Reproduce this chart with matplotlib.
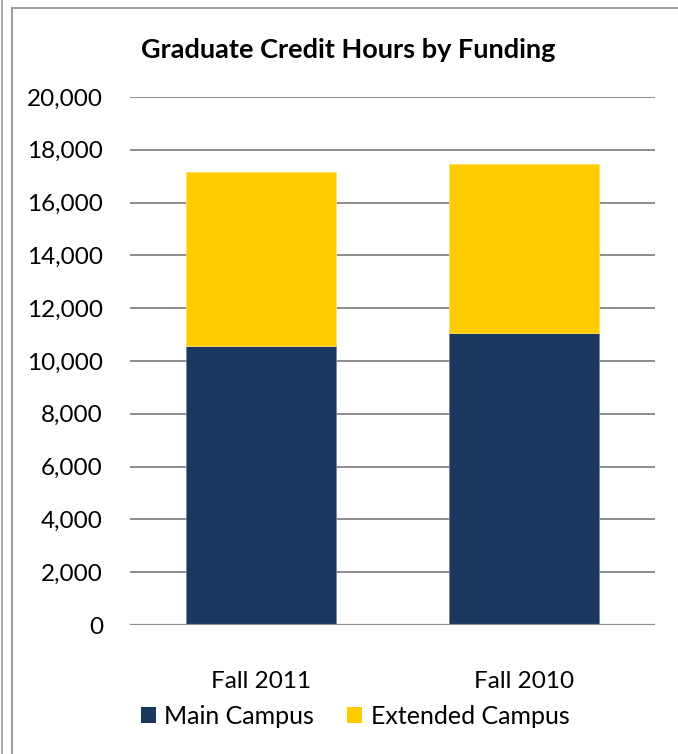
import matplotlib
matplotlib.use("Agg")
import matplotlib.pyplot as plt
from matplotlib.lines import Line2D
from matplotlib.patches import Patch

categories = ["Fall 2011", "Fall 2010"]
main_campus = [10560, 11070]
extended_campus = [6600, 6390]
yticks = [0, 2000, 4000, 6000, 8000, 10000, 12000, 14000, 16000, 18000, 20000]

plt.rcParams['font.family'] = ['Lato', 'DejaVu Sans']

W, H = 678, 754
fig = plt.figure(figsize=(W / 100, H / 100), dpi=100)
ax = fig.add_axes([130 / W, 1 - 625 / H, (655 - 130) / W, (625 - 97) / H])

navy = "#1A375E"
gold = "#FFCC00"
x = range(len(categories))
ax.bar(x, main_campus, width=0.571, color=navy, edgecolor="#6E86A8", linewidth=0.6, zorder=3)
ax.bar(x, extended_campus, bottom=main_campus, width=0.571, color=gold,
       edgecolor="#FFE066", linewidth=0.6, zorder=3)

ax.set_xlim(-0.5, 1.5)
ax.set_ylim(0, 20000)
ax.set_yticks(yticks)
ax.set_yticklabels([f"{v:,}" for v in yticks], fontsize=17.5)
ax.set_xticks(list(x))
ax.set_xticklabels(categories, fontsize=17.5)
ax.tick_params(axis='both', length=0)
ax.tick_params(axis='y', pad=19.5)
ax.tick_params(axis='x', pad=33)
ax.yaxis.grid(True, color="#8C8C8C", linewidth=1.4, zorder=0)
for s in ax.spines.values():
    s.set_visible(False)
ax.axhline(0, color="#8C8C8C", linewidth=1.6, zorder=4)

fig.text(348 / W, 1 - 50 / H, "Graduate Credit Hours by Funding", ha="center", va="center",
         fontsize=19.5, fontweight="bold")

handles = [Patch(facecolor=navy, label="Main Campus"), Patch(facecolor=gold, label="Extended Campus")]
fig.legend(handles=handles, loc="center", bbox_to_anchor=(355 / W, 1 - 716 / H), ncol=2,
           frameon=False, fontsize=18, handlelength=0.6, handleheight=0.6,
           handletextpad=0.35, columnspacing=1.3)

# borders
fig.add_artist(Line2D([1.5 / W, 1.5 / W], [0, 1], color="#9A9A9A", linewidth=1.2))
fig.add_artist(Line2D([12 / W, 12 / W], [0, 1 - 8 / H], color="#8C8C8C", linewidth=1.2))
fig.add_artist(Line2D([12 / W, 1], [1 - 8 / H, 1 - 8 / H], color="#8C8C8C", linewidth=1.2))

fig.savefig("out.png", dpi=100)
